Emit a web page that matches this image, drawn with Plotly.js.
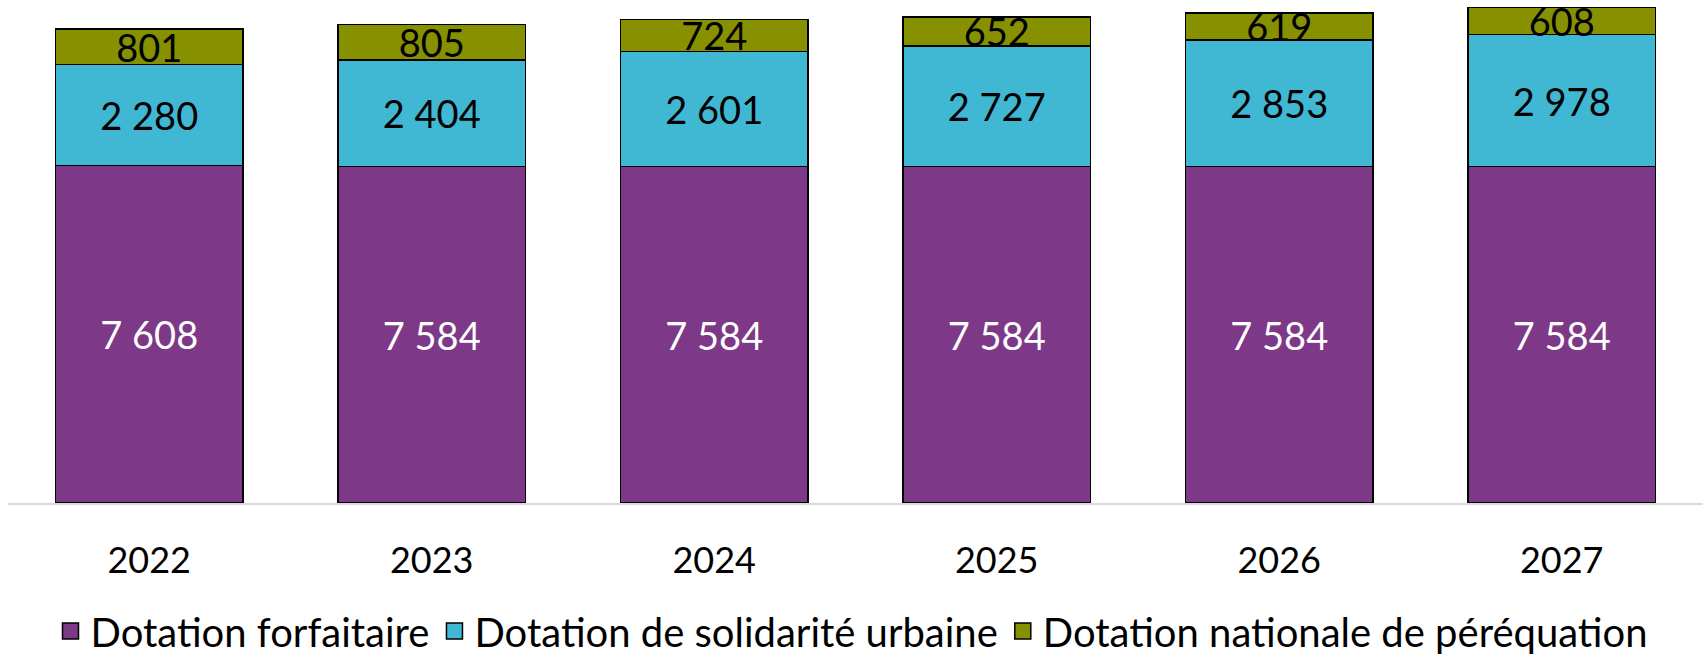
<!DOCTYPE html>
<html>
<head>
<meta charset="utf-8">
<script src="https://cdn.plot.ly/plotly-3.0.1.min.js"></script>
<style>html,body{margin:0;padding:0;background:#fff;}#chart{width:1703px;height:654px;}</style>
</head>
<body>
<div id="chart"></div>
<script>
const years = ["2022", "2023", "2024", "2025", "2026", "2027"];
const forfaitaire = [7608, 7584, 7584, 7584, 7584, 7584];
const solidarite = [2280, 2404, 2601, 2727, 2853, 2978];
const perequation = [801, 805, 724, 652, 619, 608];
const seriesNames = ["Dotation forfaitaire", "Dotation de solidarité urbaine", "Dotation nationale de péréquation"];
const seriesColors = ["#7D3887", "#40B8D4", "#879100"];

const FONT = "Lato, 'Open Sans', sans-serif";
function mk(i, vals, txtColor) {
  return {
    type: "bar", name: seriesNames[i], x: years, y: vals, showlegend: false,
    marker: {color: seriesColors[i], line: {color: "#000000", width: 1.5}},
    texttemplate: "%{y:,}", textposition: "inside", insidetextanchor: "middle",
    textangle: 0, constraintext: "none",
    insidetextfont: {family: FONT, size: 38, color: txtColor},
    hoverinfo: "skip"
  };
}
function legendProxy(i) {
  return {
    type: "scatter", mode: "markers", name: seriesNames[i], x: [null], y: [null],
    marker: {symbol: "square", size: 16, color: seriesColors[i], line: {color: "#000000", width: 1.5}},
    showlegend: true, hoverinfo: "skip"
  };
}
const data = [
  mk(0, forfaitaire, "#ffffff"),
  mk(1, solidarite, "#000000"),
  mk(2, perequation, "#000000"),
  legendProxy(0), legendProxy(1), legendProxy(2)
];
const layout = {
  width: 1703, height: 654,
  margin: {l: 8, r: 0, t: 0, b: 151, pad: 0},
  paper_bgcolor: "#ffffff", plot_bgcolor: "#ffffff",
  barmode: "stack", bargap: 0.335,
  separators: ", ",
  font: {family: FONT, color: "#000000"},
  showlegend: true,
  xaxis: {type: "category", showline: true, linecolor: "#D9D9D9", linewidth: 1.5,
          ticks: "", showgrid: false, zeroline: false,
          tickfont: {family: FONT, size: 36, color: "#000000"}, ticklabelstandoff: 25},
  yaxis: {range: [0, 11344], visible: false, showgrid: false, zeroline: false},
  legend: {orientation: "h", xref: "container", yref: "container",
           x: 0.5, xanchor: "center", y: 0.035, yanchor: "middle",
           font: {family: FONT, size: 40, color: "#000000"}, itemgap: 24,
           itemsizing: "trace", traceorder: "normal"}
};
Plotly.newPlot("chart", data, layout, {staticPlot: true, displayModeBar: false});
</script>
</body>
</html>
